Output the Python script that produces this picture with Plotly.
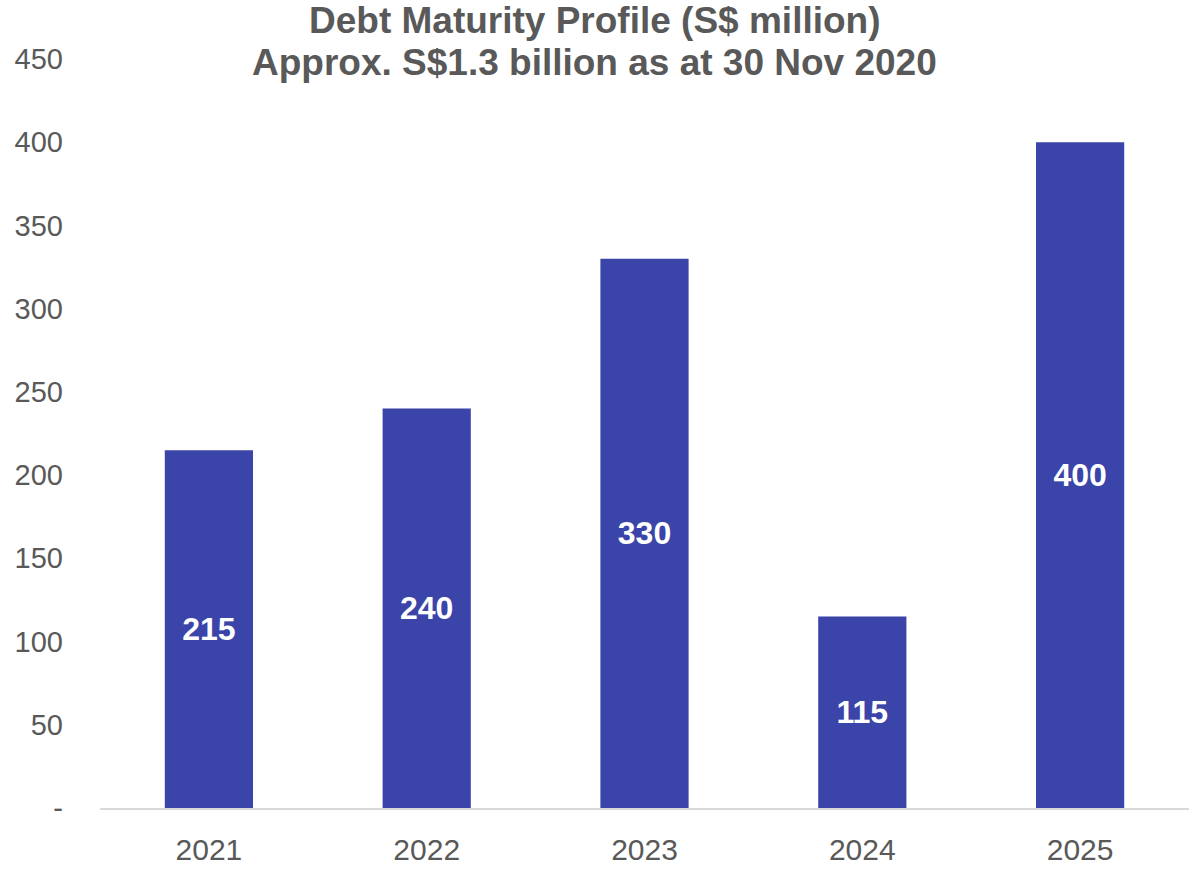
import plotly.graph_objects as go

years = ["2021", "2022", "2023", "2024", "2025"]
amounts = [215, 240, 330, 115, 400]
y_tickvals = [0, 50, 100, 150, 200, 250, 300, 350, 400, 450]
y_ticktext = ["-", "50", "100", "150", "200", "250", "300", "350", "400", "450"]
title_line1 = "Debt Maturity Profile (S$ million)"
title_line2 = "Approx. S$1.3 billion as at 30 Nov 2020"

FONT = "Liberation Sans, Arial, sans-serif"
GRAY = "#595959"

fig = go.Figure()
fig.add_trace(go.Bar(
    x=years, y=amounts,
    marker=dict(color="#3B44A8", line=dict(width=0)),
    text=[str(v) for v in amounts],
    textposition="inside", insidetextanchor="middle", textangle=0,
    textfont=dict(family=FONT, size=32, color="white", weight="bold"),
    cliponaxis=False,
))

fig.update_layout(
    width=1189, height=869,
    margin=dict(l=100, r=0, t=59, b=61),
    paper_bgcolor="white", plot_bgcolor="white",
    bargap=0.595,
    showlegend=False,
    font=dict(family=FONT, color=GRAY),
    xaxis=dict(
        showgrid=False, showline=True, linecolor="#D9D9D9", linewidth=1.5,
        ticks="", tickfont=dict(size=30, color=GRAY, family=FONT),
        ticklabelstandoff=14,
    ),
    yaxis=dict(
        range=[0, 450], showgrid=False, zeroline=False, showline=False,
        tickvals=y_tickvals, ticktext=y_ticktext, ticks="",
        tickfont=dict(size=29, color=GRAY, family=FONT),
        ticklabelstandoff=36,
    ),
    annotations=[
        dict(text=title_line1, x=0.5, xref="paper", y=20, yref="paper",
             showarrow=False, font=dict(size=37, color=GRAY, family=FONT, weight="bold")),
        dict(text=title_line2, x=0.5, xref="paper", y=62, yref="paper",
             showarrow=False, font=dict(size=37, color=GRAY, family=FONT, weight="bold")),
    ],
)

# position title annotations by pixel: convert pixel y to paper coords
plot_h = 869 - 59 - 61
plot_w = 1189 - 100
for ann in fig.layout.annotations:
    py = ann.y
    ann.y = (869 - 61 - py) / plot_h
    ann.yanchor = "middle"
    ann.xanchor = "center"
    ann.x = (594.5 - 100) / plot_w

fig.write_html("out.html")
